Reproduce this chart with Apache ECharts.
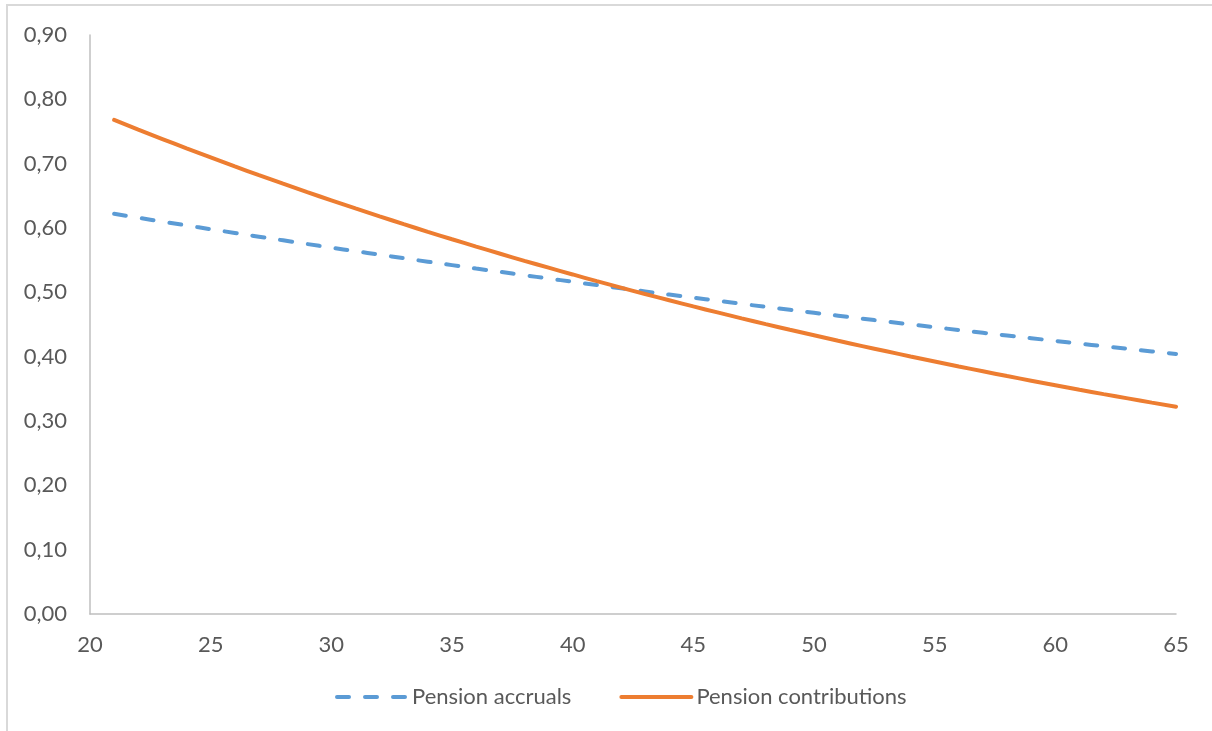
<!DOCTYPE html>
<html>
<head>
<meta charset="utf-8">
<script src="https://cdn.jsdelivr.net/npm/echarts@6/dist/echarts.min.js"></script>
<style>
  html, body { margin: 0; padding: 0; background: #ffffff; overflow: hidden; }
  #frame { position: absolute; left: 6px; top: 4px; width: 1230px; height: 760px; border: 2px solid #d9d9d9; box-sizing: border-box; }
  #chart { position: absolute; left: 0; top: 0; width: 1212px; height: 731px; }
</style>
</head>
<body>
<div id="frame"></div>
<div id="chart"></div>
<script>
// Age (years)
const ages = [21,22,23,24,25,26,27,28,29,30,31,32,33,34,35,36,37,38,39,40,41,42,43,
  44,45,46,47,48,49,50,51,52,53,54,55,56,57,58,59,60,61,62,63,64,65];

const pensionAccruals = [0.6220,0.6159,0.6099,0.6040,0.5981,0.5923,0.5865,0.5808,0.5751,
  0.5695,0.5640,0.5585,0.5530,0.5476,0.5423,0.5370,0.5318,0.5266,0.5215,0.5164,0.5113,
  0.5063,0.5014,0.4965,0.4917,0.4869,0.4821,0.4774,0.4728,0.4682,0.4636,0.4591,0.4546,
  0.4502,0.4458,0.4414,0.4371,0.4329,0.4287,0.4245,0.4203,0.4162,0.4122,0.4082,0.4042];

const pensionContributions = [0.7680,0.7530,0.7383,0.7238,0.7097,0.6958,0.6822,0.6689,
  0.6558,0.6430,0.6304,0.6181,0.6060,0.5941,0.5825,0.5711,0.5600,0.5490,0.5383,0.5278,
  0.5174,0.5073,0.4974,0.4877,0.4781,0.4688,0.4596,0.4506,0.4418,0.4332,0.4247,0.4164,
  0.4083,0.4003,0.3925,0.3848,0.3773,0.3699,0.3627,0.3556,0.3486,0.3418,0.3352,0.3286,0.3222];

const xTicks = { min: 20, max: 65, step: 5 };
const yTicks = { min: 0, max: 0.9, step: 0.1 };

const pair = (xs, ys) => xs.map((x, i) => [x, ys[i]]);

const chart = echarts.init(document.getElementById('chart'));
const font = 'Lato, "Noto Sans", sans-serif';
const axisColor = '#bfbfbf';
const textColor = '#595959';

chart.setOption({
  animation: false,
  backgroundColor: 'transparent',
  grid: { left: 90, right: 36, top: 35, bottom: 117, containLabel: false },
  xAxis: {
    type: 'value',
    min: xTicks.min, max: xTicks.max, interval: xTicks.step,
    axisLine: { show: true, lineStyle: { color: axisColor, width: 1.5 } },
    axisTick: { show: false },
    splitLine: { show: false },
    axisLabel: { color: textColor, fontSize: 22, fontFamily: font, margin: 20 }
  },
  yAxis: {
    type: 'value',
    min: yTicks.min, max: yTicks.max, interval: yTicks.step,
    axisLine: { show: true, lineStyle: { color: axisColor, width: 1.5 } },
    axisTick: { show: false },
    splitLine: { show: false },
    axisLabel: {
      color: textColor, fontSize: 22, fontFamily: font, margin: 23,
      formatter: v => v.toFixed(2).replace('.', ',')
    }
  },
  legend: {
    bottom: 18, left: 330,
    itemWidth: 70, itemHeight: 14, itemGap: 48,
    itemStyle: { opacity: 0 },
    lineStyle: { width: 4, cap: 'round' },
    textStyle: { color: textColor, fontSize: 22, fontFamily: font },
    data: ['Pension accruals', 'Pension contributions']
  },
  series: [
    {
      name: 'Pension accruals', type: 'line', showSymbol: false, symbol: 'none', smooth: true,
      data: pair(ages, pensionAccruals),
      lineStyle: { color: '#5b9bd5', width: 4, type: [12, 16], cap: 'round' },
      itemStyle: { color: '#5b9bd5' }
    },
    {
      name: 'Pension contributions', type: 'line', showSymbol: false, symbol: 'none', smooth: true,
      data: pair(ages, pensionContributions),
      lineStyle: { color: '#ed7d31', width: 4, cap: 'round' },
      itemStyle: { color: '#ed7d31' }
    }
  ]
});
</script>
</body>
</html>
